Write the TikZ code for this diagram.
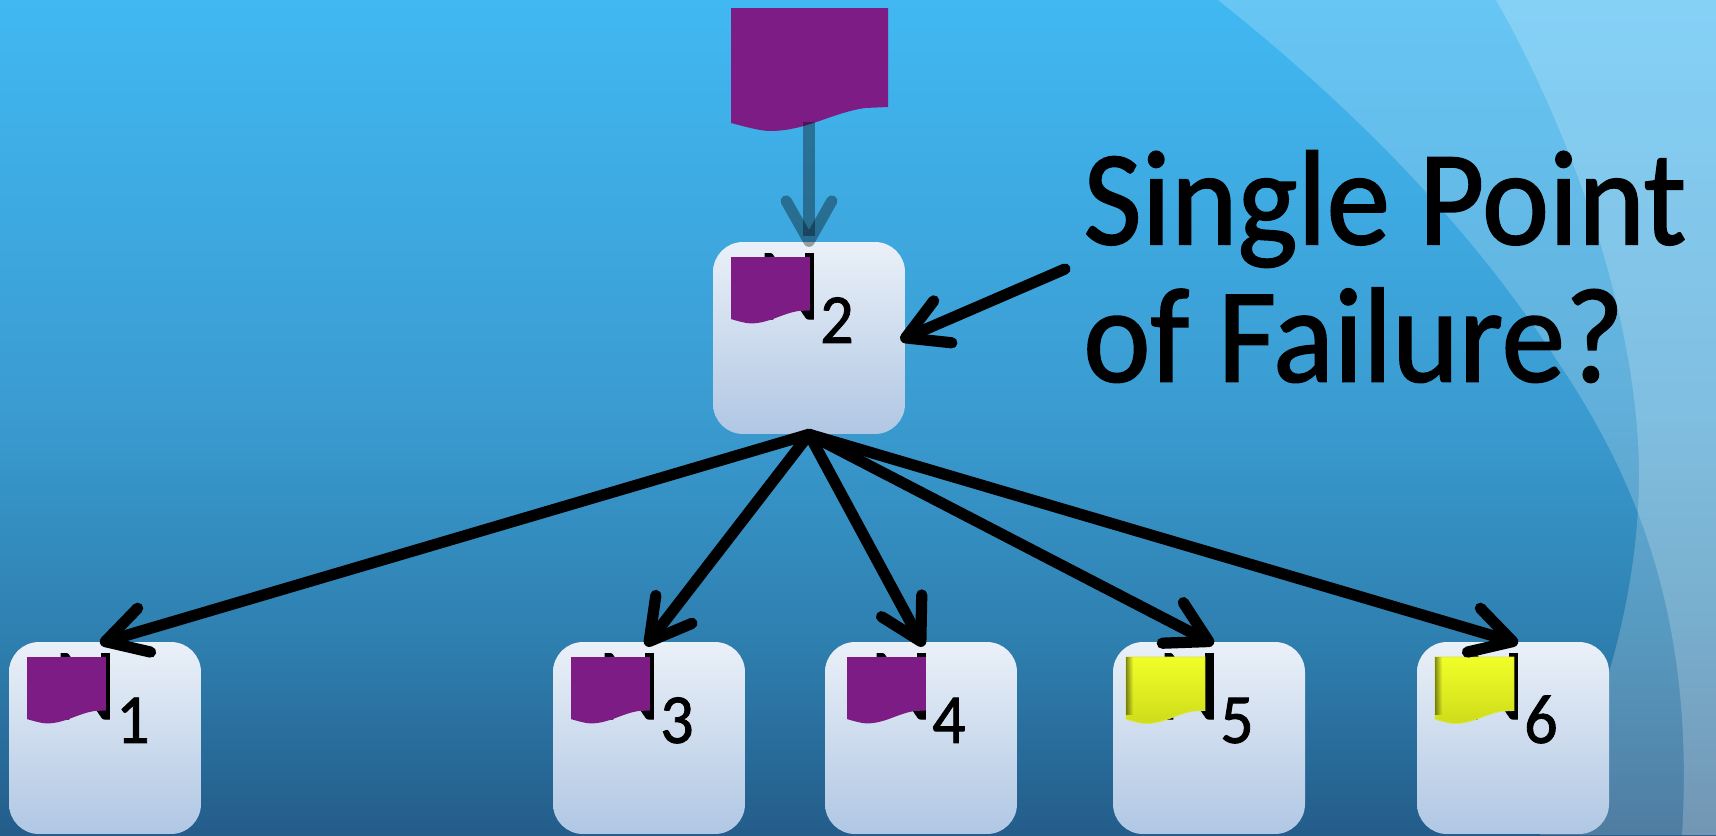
\documentclass[tikz,border=0pt]{standalone}
\usepackage{fontspec}
\setmainfont{Carlito}[FakeBold=1.2,FakeStretch=0.94]
\usetikzlibrary{positioning,arrows.meta,fadings}

\definecolor{docpurple}{HTML}{7D1C85}
\definecolor{boxtop}{HTML}{EAF0F8}
\definecolor{boxbottom}{HTML}{B0C7E3}
\definecolor{flagtop}{HTML}{F0FF28}
\definecolor{flagbottom}{HTML}{CEDC1A}
\definecolor{slideA}{HTML}{245C8A}
\definecolor{slideB}{HTML}{2E80B0}
\definecolor{slideC}{HTML}{3A9BD0}
\definecolor{slideD}{HTML}{41B8F2}
\pgfdeclareverticalshading{slidebg}{100bp}{
  color(0bp)=(slideA);
  color(25bp)=(slideA);
  color(37bp)=(slideB);
  color(50bp)=(slideC);
  color(75bp)=(slideD);
  color(100bp)=(slideD)}
\tikzset{
  nodebox/.style={rectangle, rounded corners=0.6cm, minimum size=3.84cm, inner sep=0pt, top color=boxtop, bottom color=boxbottom},
  purpleflag/.style={fill=docpurple},
  yellowflag/.style={top color=flagtop, bottom color=flagbottom, draw=flagtop!80!gray, line width=0.5pt},
  nodetext/.style={anchor=base west, inner sep=0pt, font=\fontsize{58}{58}\selectfont},
  pointer/.style={line width=6.4pt, line cap=round, line join=round, shorten >=-3pt, -{Straight Barb[length=23pt,width=26pt,round]}}
}
\newcommand{\docflag}[5]{
  \path[#1, shift={(#2,#3)}, xscale=#4, yscale=#5] (0,0) -- (157,0) -- (157,99) -- (134,100) .. controls (100,105) and (75,123) .. (39,123) .. controls (30,123) and (15,119) .. (0,115) -- cycle;
}

\begin{document}
\begin{tikzpicture}[x=0.02cm, y=-0.02cm]
  \useasboundingbox (0,0) rectangle (1716,835);
  \shade[shading=slidebg] (0,0) rectangle (1716,835);
  \fill[white, opacity=0.2] (1218,0) .. controls (1331,90) and (1460,210) .. (1558,362) .. controls (1637,479) and (1695,620) .. (1682,835) -- (1716,835) -- (1716,0) -- cycle;
  \fill[white, opacity=0.2] (1496,0) .. controls (1570,130) and (1640,320) .. (1639,479) .. controls (1638,600) and (1600,730) .. (1540,835) -- (1716,835) -- (1716,0) -- cycle;

  \docflag{purpleflag}{731}{8}{1}{1}
  \coordinate (source) at (809,122);

  \node[nodebox] (n2) at (809,338) {};
  \node[nodetext] (t2) at (758,319) {N\lower13.6pt\hbox{\fontsize{40}{40}\selectfont 2}};
  \docflag{purpleflag}{731}{257}{0.503}{0.54}

  \foreach \i/\x/\dx/\flag in {1/105/18/purpleflag, 3/649/18/purpleflag, 4/921/22/purpleflag, 5/1209/13/yellowflag, 6/1513/18/yellowflag} {
    \node[nodebox] (n\i) at (\x,738) {};
    \node[nodetext] (t\i) at (\x-51,719) {N\lower13.6pt\hbox{\fontsize{40}{40}\selectfont \i}};
    \docflag{\flag}{\x-96+\dx}{657}{0.503}{0.54}
  }
  \fill[black, opacity=0.45, path fading=east] (1126,657) rectangle (1133,715);
  \fill[black, opacity=0.45, path fading=east] (1435,657) rectangle (1442,715);

  \node[anchor=north west, inner sep=0pt, align=left, font=\fontsize{77}{78.2}\selectfont] (question) at (1083,150) {Single Point\\of Failure?};
  \coordinate (questionend) at (1065,269);

  \draw[pointer, black, opacity=0.35, line cap=butt] (source) -- (n2.north);
  \draw[pointer] (questionend) -- (n2.east);
  \foreach \i in {1,3,4,5,6}
    \draw[pointer] (n2.south) -- (n\i.north);
\end{tikzpicture}
\end{document}
